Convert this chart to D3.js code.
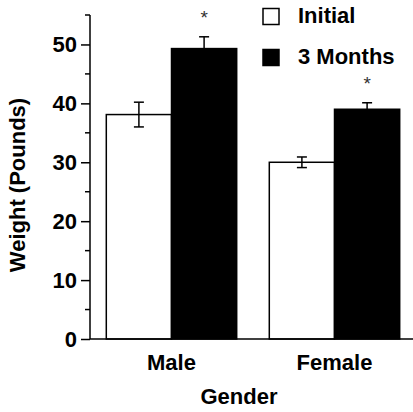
<!DOCTYPE html>
<html>
<head>
<meta charset="utf-8">
<script src="https://cdn.jsdelivr.net/npm/d3@7"></script>
<style>
  body { margin: 0; background: #fff; }
  svg text { font-family: "Liberation Sans", Arial, Helvetica, sans-serif; }
</style>
</head>
<body>
<svg id="chart" width="413" height="412"></svg>
<script>
// data
const genders = ["Male", "Female"];
const seriesNames = ["Initial", "3 Months"];
const seriesFill = ["#fff", "#000"];
const initialMeans = [38.1, 30.0];
const initialErr = [2.1, 0.9];
const monthMeans = [49.3, 39.0];
const monthErr = [2.0, 1.1];
const monthSignificant = [true, true];
const majorTicks = [0, 10, 20, 30, 40, 50];
const minorTicks = [5, 15, 25, 35, 45, 55];

const svg = d3.select("#chart");
const width = +svg.attr("width");
const height = +svg.attr("height");
const margin = {top: 15, right: 0, bottom: 73, left: 90};
const fontSize = 22;

const rows = genders.map((g, i) => ({
  gender: g,
  values: [
    {series: seriesNames[0], mean: initialMeans[i], err: initialErr[i], sig: false},
    {series: seriesNames[1], mean: monthMeans[i], err: monthErr[i], sig: monthSignificant[i]}
  ]
}));

const y = d3.scaleLinear().domain([0, 55]).range([height - margin.bottom, margin.top]);
const x0 = d3.scaleBand().domain(genders).range([margin.left, 416]).paddingInner(0.2).paddingOuter(0.1);
const x1 = d3.scaleBand().domain(seriesNames).range([0, x0.bandwidth()]);
const color = d3.scaleOrdinal().domain(seriesNames).range(seriesFill);

// bars
const groups = svg.append("g").selectAll("g")
  .data(rows).join("g")
  .attr("transform", d => `translate(${x0(d.gender)},0)`);

groups.selectAll("rect")
  .data(d => d.values).join("rect")
  .attr("x", d => x1(d.series))
  .attr("y", d => y(d.mean))
  .attr("width", x1.bandwidth())
  .attr("height", d => y(0) - y(d.mean))
  .attr("fill", d => color(d.series))
  .attr("stroke", "#000")
  .attr("stroke-width", 1.5);

// error bars
const capHalf = 5;
const errG = groups.selectAll("g.err")
  .data(d => d.values).join("g")
  .attr("class", "err")
  .attr("stroke", "#000")
  .attr("stroke-width", 1.5);
errG.append("line")
  .attr("x1", d => x1(d.series) + x1.bandwidth() / 2)
  .attr("x2", d => x1(d.series) + x1.bandwidth() / 2)
  .attr("y1", d => y(d.mean - d.err))
  .attr("y2", d => y(d.mean + d.err));
errG.append("line")
  .attr("x1", d => x1(d.series) + x1.bandwidth() / 2 - capHalf)
  .attr("x2", d => x1(d.series) + x1.bandwidth() / 2 + capHalf)
  .attr("y1", d => y(d.mean + d.err))
  .attr("y2", d => y(d.mean + d.err));
errG.append("line")
  .attr("x1", d => x1(d.series) + x1.bandwidth() / 2 - capHalf)
  .attr("x2", d => x1(d.series) + x1.bandwidth() / 2 + capHalf)
  .attr("y1", d => y(d.mean - d.err))
  .attr("y2", d => y(d.mean - d.err));

// redraw black bars over their lower whiskers
groups.selectAll("rect.cover")
  .data(d => d.values.filter(v => v.series === seriesNames[1])).join("rect")
  .attr("class", "cover")
  .attr("x", d => x1(d.series))
  .attr("y", d => y(d.mean))
  .attr("width", x1.bandwidth())
  .attr("height", d => y(0) - y(d.mean))
  .attr("fill", "#000");

// significance stars
groups.selectAll("text.sig")
  .data(d => d.values.filter(v => v.sig)).join("text")
  .attr("class", "sig")
  .attr("x", d => x1(d.series) + x1.bandwidth() / 2)
  .attr("y", d => y(d.mean + d.err) - 13)
  .attr("text-anchor", "middle")
  .attr("font-size", 19)
  .attr("fill", "#333")
  .text("*");

// y axis
const leftAxis = d3.axisLeft(y).tickValues(majorTicks).tickSize(9).tickPadding(4);
const yAxisG = svg.append("g")
  .attr("transform", `translate(${margin.left},0)`)
  .call(leftAxis);
yAxisG.select(".domain").attr("d", `M0,${y(55)}V${y(0)}`).attr("stroke-width", 1.5);
yAxisG.selectAll(".tick line").attr("stroke-width", 1.5);
yAxisG.selectAll(".tick text")
  .attr("font-size", fontSize).attr("font-weight", "bold").attr("fill", "#000")
  .attr("font-family", "Liberation Sans, Arial, sans-serif");
yAxisG.selectAll("line.minor")
  .data(minorTicks).join("line")
  .attr("class", "minor")
  .attr("x1", -5).attr("x2", 0)
  .attr("y1", d => y(d)).attr("y2", d => y(d))
  .attr("stroke", "#000").attr("stroke-width", 1.5);

// x baseline
svg.append("line")
  .attr("x1", margin.left).attr("x2", width)
  .attr("y1", y(0)).attr("y2", y(0))
  .attr("stroke", "#000").attr("stroke-width", 1.5);

// category labels
svg.append("g").selectAll("text")
  .data(genders).join("text")
  .attr("x", d => x0(d) + x0.bandwidth() / 2)
  .attr("y", 370)
  .attr("text-anchor", "middle")
  .attr("font-size", fontSize).attr("font-weight", "bold")
  .text(d => d);

// axis titles
svg.append("text")
  .attr("x", 239).attr("y", 404)
  .attr("text-anchor", "middle")
  .attr("font-size", fontSize).attr("font-weight", "bold")
  .text("Gender");
svg.append("text")
  .attr("transform", "translate(25,185) rotate(-90)")
  .attr("text-anchor", "middle")
  .attr("font-size", fontSize).attr("font-weight", "bold")
  .text("Weight (Pounds)");

// legend
const legend = svg.append("g").selectAll("g")
  .data(seriesNames).join("g")
  .attr("transform", (d, i) => `translate(263,${8.5 + i * 41})`);
legend.append("rect")
  .attr("width", 16).attr("height", 16)
  .attr("fill", d => color(d))
  .attr("stroke", "#000").attr("stroke-width", 1.5);
legend.append("text")
  .attr("x", 35).attr("y", 14)
  .attr("font-size", fontSize).attr("font-weight", "bold")
  .text(d => d);
</script>
</body>
</html>
